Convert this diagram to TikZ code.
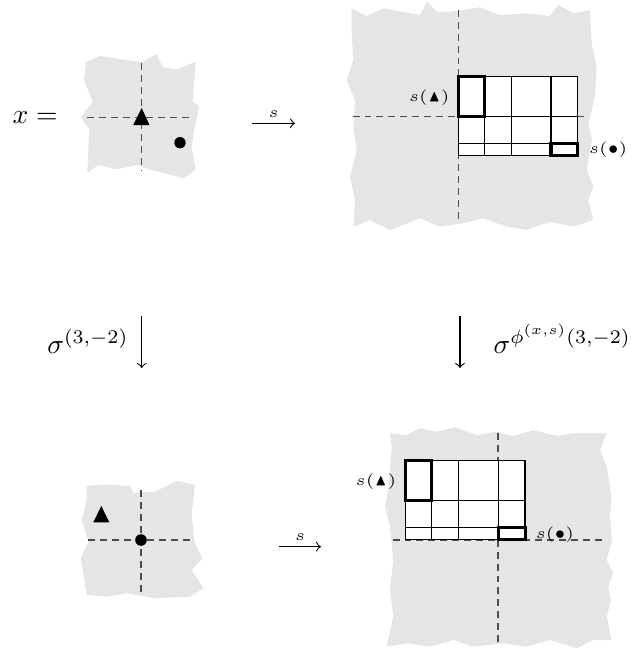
\RequirePackage{fix-cm}
\documentclass[tikz,border=0pt]{standalone}
\usepackage{amsmath,amssymb}
\newcommand{\labsize}{\fontsize{5.6}{6.5}\selectfont}
\begin{document}
\begin{tikzpicture}[x=0.362pt,y=-0.362pt,
  blob/.style={fill=black!10,draw=none},
  axisline/.style={draw=black!70,line width=0.5pt,dash pattern=on 2.5pt off 1.8pt},
  gridline/.style={draw=black,line width=0.45pt},
  thickbox/.style={draw=black,line width=1.1pt},
  mapto/.style={->,line width=0.4pt},
  smalllabel/.style={font=\labsize,inner sep=0pt},
  biglabel/.style={inner sep=0pt},
  cellgrid/.pic={
    \fill[white] (0,0) rectangle (119.4,79);
    \draw[gridline] (0,0) rectangle (119.4,79);
    \draw[gridline] (26,0)--(26,79) (53,0)--(53,79) (92.7,0)--(92.7,79)
                    (0,40)--(119.4,40) (0,66.7)--(119.4,66.7);
    \draw[thickbox] (0,0) rectangle (26,40);
    \draw[thickbox] (92.7,66.7) rectangle (119.4,79);
  }]
\useasboundingbox (0,0) rectangle (631,657);

% ---------- top-left blob ----------
\fill[blob] (86,61.7) -- (100,56) -- (141.7,62.3) -- (156.7,54) -- (162.7,67.3) -- (176.7,69.3)
  -- (195.7,61.7) -- (192.7,101.7) -- (199.3,106) -- (195,126.7) -- (191.7,146.7) -- (195.7,170)
  -- (183.3,178.3) -- (151.7,170) -- (136.7,165) -- (116.7,169.3) -- (98.3,165) -- (87.3,172.7)
  -- (89.3,130) -- (81,117.3) -- (92.7,101.7) -- (84,80) -- cycle;
\draw[axisline] (141.7,63) -- (141.7,170);
\draw[axisline] (87,117.3) -- (193,117.3);
\fill (141.7,108) -- (149.5,125) -- (133.2,125) -- cycle;
\fill (180,142.7) circle[radius=5.7];
\node[biglabel,anchor=base west] (xeq) at (12,123.3) {$x=$};

% ---------- top-right blob ----------
\fill[blob] (351.7,8.3) -- (366.7,16) -- (383.3,8.3) -- (420,15) -- (427.3,1.7) -- (436.7,11.7)
  -- (450,11.7) -- (480,7.3) -- (500,15) -- (526.7,13.3) -- (550,16) -- (558.3,5) -- (573.3,13.3)
  -- (590,10) -- (591.7,43.3) -- (596.7,66.7) -- (595,96.7) -- (588.3,123.3) -- (592,140)
  -- (586.7,170) -- (593.3,186.7) -- (588.3,200) -- (593.3,220) -- (573.3,226.7) -- (550,221.7)
  -- (526.7,230) -- (506.7,226.7) -- (483.3,218.3) -- (466.7,222.7) -- (440,226.7) -- (420,218.3)
  -- (390,230) -- (370,220) -- (353.3,226.7) -- (355,200) -- (350,176.7) -- (356.7,150)
  -- (353.3,126.7) -- (355,100) -- (346.7,80) -- (353.3,60) -- (351.7,33.3) -- cycle;
\draw[axisline] (458.3,10) -- (458.3,223);
\draw[axisline] (352.7,116.7) -- (584,116.7);
\pic at (458.3,76.7) {cellgrid};
\node[smalllabel,anchor=base east] (stri1) at (450,101.7) {$s(\blacktriangle)$};
\node[smalllabel,anchor=base west] (sdot1) at (588.3,153.3) {$s(\bullet)$};

% ---------- bottom-left blob ----------
\fill[blob] (86.7,486) -- (105,484.3) -- (130,486) -- (133.3,492.7) -- (155,491.7) -- (176.7,480.7)
  -- (195,485) -- (191.7,515) -- (194.3,541.7) -- (202.3,558.3) -- (191.7,570) -- (203.3,588.3)
  -- (190,596.7) -- (155,598.3) -- (126.7,593.3) -- (106.7,596.7) -- (86.7,595) -- (83.3,573.3)
  -- (80.7,558.3) -- (88.3,541.7) -- (85,530) -- (81.7,520) -- (86.7,500) -- cycle;
\draw[axisline] (141,490) -- (141,593);
\draw[axisline] (88,540) -- (191.7,540);
\fill (101.3,506) -- (109.3,522.3) -- (93.3,522.3) -- cycle;
\fill (141,540) circle[radius=5.8];

% ---------- bottom-right blob ----------
\fill[blob] (390,433.3) -- (406.7,435) -- (420,428.3) -- (436.7,431.7) -- (455,427.3) -- (476.7,435)
  -- (496.7,431.7) -- (513.3,436) -- (533.3,430) -- (556.7,436) -- (573.3,433.3) -- (606.7,433.3)
  -- (600,450) -- (606.7,466.7) -- (611.7,496.7) -- (610,516.7) -- (612,540) -- (606.7,560)
  -- (613.3,573.3) -- (608.3,586.7) -- (611,600) -- (606.7,616.7) -- (611.7,640) -- (593.3,640)
  -- (576.7,648.3) -- (550,640) -- (526.7,646.7) -- (503.3,643.3) -- (473.3,646.7) -- (453.3,640)
  -- (430,646.7) -- (406.7,643.3) -- (386.7,646.7) -- (393.3,616.7) -- (390,590) -- (393.3,560)
  -- (390,526.7) -- (385,506.7) -- (388.3,490) -- (391.7,446.7) -- cycle;
\draw[axisline] (498,433) -- (498,646.7);
\draw[axisline] (392.7,540) -- (605,540);
\pic at (405.7,460.7) {cellgrid};
\node[smalllabel,anchor=base east] (stri2) at (396.7,485) {$s(\blacktriangle)$};
\node[smalllabel,anchor=base west] (sdot2) at (535,538.3) {$s(\bullet)$};

% ---------- maps ----------
\coordinate (ta) at (252,123.3);
\coordinate (tb) at (295,123.3);
\draw[mapto] (ta) -- node[above=2pt,font=\labsize,inner sep=0pt] (slab1) {$s$} (tb);
\coordinate (ba) at (279,546.7);
\coordinate (bb) at (321,546.7);
\draw[mapto] (ba) -- node[above=2pt,font=\labsize,inner sep=0pt] (slab2) {$s$} (bb);
\coordinate (la) at (141.7,316);
\coordinate (lb) at (141.7,368);
\draw[mapto] (la) -- (lb);
\coordinate (ra) at (460,316);
\coordinate (rb) at (460,368);
\draw[mapto] (ra) -- (rb);
\node[biglabel,anchor=base west] (sigl) at (46.7,353.3) {$\sigma^{(3,-2)}$};
\node[biglabel,anchor=base west] (sigr) at (493,353.3) {$\sigma^{\phi^{(x,s)}(3,-2)}$};
\end{tikzpicture}
\end{document}
